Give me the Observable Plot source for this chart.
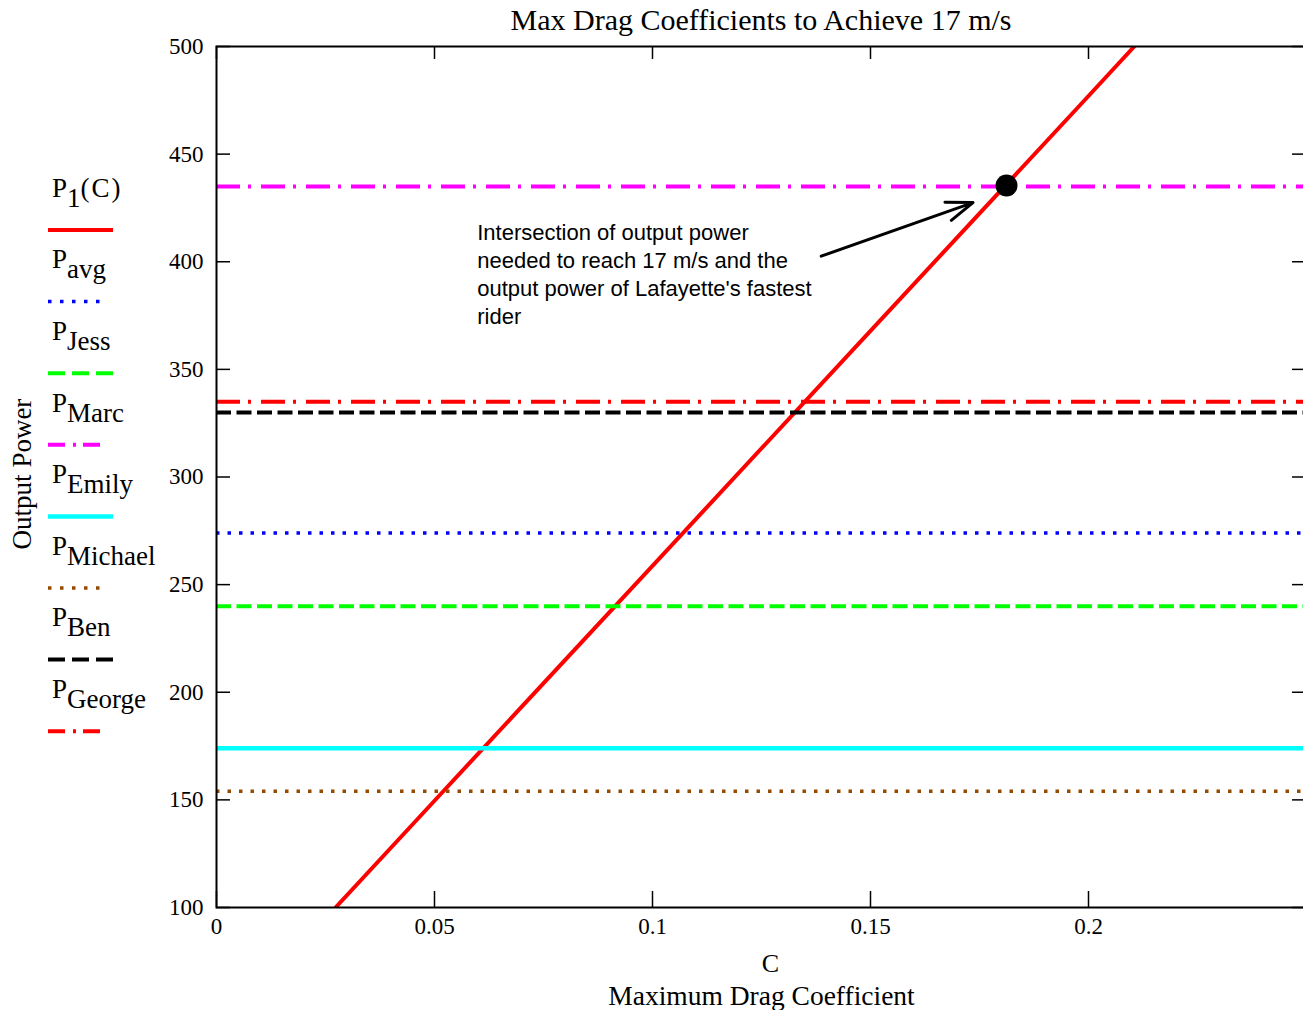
<!DOCTYPE html>
<html><head><meta charset="utf-8">
<script src="https://cdn.jsdelivr.net/npm/d3@7"></script>
<script src="https://cdn.jsdelivr.net/npm/@observablehq/plot@0.6"></script>
<style>
body{margin:0;background:#fff;}
#wrap{position:relative;width:1303px;height:1010px;overflow:hidden;background:#fff;}
#title{height:38px;margin-left:216px;width:1090px;text-align:center;font-family:"Liberation Serif",serif;font-size:30px;line-height:40px;color:#000;white-space:nowrap;}
#legend{position:absolute;left:0;top:0;}
</style></head><body>
<div id="wrap"><div id="title">Max Drag Coefficients to Achieve 17 m/s</div><div id="chart"></div><svg id="legend" width="200" height="1010"></svg></div>
<script>
// ---- data ----
const xTicks = [0, 0.05, 0.1, 0.15, 0.2];
const yTicks = [100, 150, 200, 250, 300, 350, 400, 450, 500];
const cValues = [0.0273, 0.05, 0.1, 0.15, 0.2, 0.2105];
const p1Values = [100, 149.6, 258.7, 367.9, 477.0, 500];
const riderNames = ["avg", "Jess", "Marc", "Emily", "Michael", "Ben", "George"];
const riderPower = [274, 240, 435, 174, 154, 330, 335];
const intersectionC = [0.1812];
const intersectionP = [435.4];
const arrowC = [0.1387, 0.1735];
const arrowP = [402.6, 427.5];
const annotationC = [0.0598];
const annotationP = [419.5];
const annotationLines = ["Intersection of output power", "needed to reach 17 m/s and the", "output power of Lafayette's fastest", "rider"];
const legendKeys = ["P1", "avg", "Jess", "Marc", "Emily", "Michael", "Ben", "George"];
const legendSubs = ["1", "avg", "Jess", "Marc", "Emily", "Michael", "Ben", "George"];

// ---- styles ----
const styles = {
  P1: {stroke: "#ff0000", width: 4, dash: null, legendDash: null, legendLen: 65},
  avg: {stroke: "#0000ff", width: 3.5, dash: "3.5,8", legendDash: "3.5,8.5", legendLen: 53},
  Jess: {stroke: "#00ff00", width: 4, dash: "15,5.5", legendDash: "17,7", legendLen: 65},
  Marc: {stroke: "#ff00ff", width: 4, dash: "24,8,3,10", legendDash: "17,8,3,7", legendLen: 53},
  Emily: {stroke: "#00ffff", width: 4.5, dash: null, legendDash: null, legendLen: 65},
  Michael: {stroke: "#964b00", width: 3.5, dash: "3.5,8", legendDash: "3.5,8.5", legendLen: 53},
  Ben: {stroke: "#000000", width: 4, dash: "15,5.5", legendDash: "17,7", legendLen: 65},
  George: {stroke: "#ff0000", width: 4, dash: "24,8,3,10", legendDash: "17,8,3,7", legendLen: 53}
};

const p1Data = cValues.map((c, i) => ({c, p: p1Values[i]}));
const riderData = riderNames.map((name, i) => ({name, p: riderPower[i]}));
const dotData = intersectionC.map((c, i) => ({c, p: intersectionP[i]}));
const arrowData = [{x1: arrowC[0], y1: arrowP[0], x2: arrowC[1], y2: arrowP[1]}];
const annData = annotationC.map((c, i) => ({c, p: annotationP[i], text: annotationLines.join("\n")}));

const W = 1303, H = 972, mT = 8, mB = 103, mL = 216, mR = -3;
const frameW = W - mL - mR, frameH = H - mT - mB;

const chart = Plot.plot({
  width: W, height: H,
  marginTop: mT, marginBottom: mB, marginLeft: mL, marginRight: mR,
  style: {fontFamily: "Liberation Serif, serif", fontSize: "23px", background: "#fff", color: "#000", overflow: "visible"},
  x: {domain: [0, 0.25], label: null},
  y: {domain: [100, 500], label: null},
  marks: [
    Plot.line(p1Data, {x: "c", y: "p", stroke: styles.P1.stroke, strokeWidth: styles.P1.width, clip: true}),
    ...riderData.map(d => Plot.ruleY([d], {y: "p", stroke: styles[d.name].stroke, strokeWidth: styles[d.name].width, strokeDasharray: styles[d.name].dash})),
    Plot.frame({stroke: "#000", strokeWidth: 2}),
    Plot.ruleX(xTicks, {x: d => d, insetTop: frameH - 16, stroke: "#000", strokeWidth: 1.5}),
    Plot.ruleX(xTicks, {x: d => d, insetBottom: frameH - 13, stroke: "#000", strokeWidth: 1.5}),
    Plot.ruleY(yTicks, {y: d => d, insetRight: frameW - 14, stroke: "#000", strokeWidth: 1.5}),
    Plot.ruleY(yTicks, {y: d => d, insetLeft: frameW - 14, stroke: "#000", strokeWidth: 1.5}),
    Plot.axisX({ticks: xTicks, tickSize: 0, tickPadding: 10, tickFormat: d => String(d), fontSize: 23, label: null}),
    Plot.axisY({ticks: yTicks, tickSize: 0, tickPadding: 13, tickFormat: d => String(d), fontSize: 23, label: null}),
    Plot.text(["Output Power"], {text: d => d, frameAnchor: "left", textAnchor: "middle", dx: -194, dy: -3, rotate: -90, fontSize: 27}),
    Plot.text(["C"], {text: d => d, frameAnchor: "bottom", textAnchor: "middle", dx: 9, dy: 64, fontSize: 26}),
    Plot.text(["Maximum Drag Coefficient"], {text: d => d, frameAnchor: "bottom", textAnchor: "middle", dy: 97, fontSize: 27.5}),
    Plot.arrow(arrowData, {x1: "x1", y1: "y1", x2: "x2", y2: "y2", stroke: "#000", strokeWidth: 3, headLength: 14, headAngle: 40}),
    Plot.dot(dotData, {x: "c", y: "p", r: 11, fill: "#000"}),
    Plot.text(annData, {x: "c", y: "p", text: "text", textAnchor: "start", lineAnchor: "top", lineHeight: 1.273, fontFamily: "Liberation Sans, Arial, sans-serif", fontSize: 22})
  ]
});
document.getElementById("chart").appendChild(chart);

// ---- legend ----
const lg = d3.select("#legend");
legendKeys.forEach((k, i) => {
  const lineY = 230 + 71.6 * i;
  const baseY = lineY - 33.3;
  const t = lg.append("text").attr("x", 52).attr("y", baseY)
    .attr("font-family", "Liberation Serif, serif").attr("font-size", 27).attr("fill", "#000");
  t.append("tspan").text("P");
  t.append("tspan").attr("dy", 10).text(legendSubs[i]);
  if (k === "P1") t.append("tspan").attr("dy", -10).attr("letter-spacing", 2).text("(C)");
  const s = styles[k];
  lg.append("line").attr("x1", 48).attr("x2", 48 + s.legendLen).attr("y1", lineY).attr("y2", lineY)
    .attr("stroke", s.stroke).attr("stroke-width", s.width)
    .attr("stroke-dasharray", s.legendDash);
});
</script>
</body></html>
